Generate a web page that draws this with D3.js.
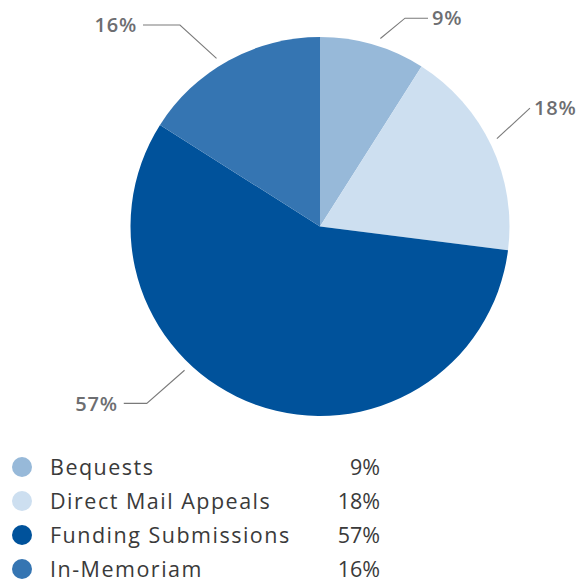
<!DOCTYPE html>
<html>
<head>
<meta charset="utf-8">
<script src="https://cdn.jsdelivr.net/npm/d3@7"></script>
<style>
  html, body { margin: 0; padding: 0; background: #fff; }
  #main { width: 586px; height: 582px; }
</style>
</head>
<body>
<div id="main"></div>
<script>
// data
const categories = ["Bequests", "Direct Mail Appeals", "Funding Submissions", "In-Memoriam"];
const shares = [9, 18, 57, 16];
const colors = ["#97b9d9", "#cddff0", "#00529b", "#3575b2"];

// leader layout per slice: start / elbow angle shift from slice middle (deg), elbow radius, horizontal run
const leaderShift = [1.6, -1.2, 23.5, -2.8];
const elbowShift = [6.0, -4.2, 24.6, -6.0];
const elbowR = [225, 241, 247.6, 245.4];
const runLen = [23, 0, 23, 37];

const ctx = {
    W: 586,
    H: 582,
    CX: 320,
    CY: 226.5,
    R: 189.5,
    LABEL_COLOR: "#6d6e71",
    LINE_COLOR: "#7a7a7a",
    TEXT_COLOR: "#3a3a3a"
};

const svg = d3.select("#main").append("svg")
    .attr("width", ctx.W)
    .attr("height", ctx.H);

const pieG = svg.append("g")
    .attr("transform", `translate(${ctx.CX},${ctx.CY})`);

const pie = d3.pie().sort(null).value(d => d);
const arcs = pie(shares);
const arcGen = d3.arc().innerRadius(0).outerRadius(ctx.R);

pieG.selectAll("path.slice")
    .data(arcs)
    .enter()
    .append("path")
    .attr("class", "slice")
    .attr("d", arcGen)
    .attr("fill", (d, i) => colors[i]);

function polar(r, a) {
    return [r * Math.sin(a), -r * Math.cos(a)];
}

const toRad = Math.PI / 180;

arcs.forEach(function(d, i) {
    let mid = (d.startAngle + d.endAngle) / 2;
    let p1 = polar(ctx.R + 8, mid + leaderShift[i] * toRad);
    let p2 = polar(elbowR[i], mid + elbowShift[i] * toRad);
    let right = Math.sin(mid) > 0;
    let p3 = [p2[0] + (right ? runLen[i] : -runLen[i]), p2[1]];

    pieG.append("polyline")
        .attr("points", [p1, p2, p3].map(p => p.join(",")).join(" "))
        .attr("fill", "none")
        .attr("stroke", ctx.LINE_COLOR)
        .attr("stroke-width", 1.1);

    pieG.append("text")
        .attr("x", p3[0] + (right ? 4 : -6))
        .attr("y", p3[1])
        .attr("dy", "0.36em")
        .attr("text-anchor", right ? "start" : "end")
        .attr("font-family", "'Open Sans', sans-serif")
        .attr("font-weight", 600)
        .attr("font-size", 20)
        .attr("letter-spacing", 0.8)
        .attr("fill", ctx.LABEL_COLOR)
        .text(shares[i] + "%");
});

// legend
const y = d3.scaleBand()
    .domain(categories)
    .range([450, 586])
    .paddingInner(0);

const legend = svg.selectAll("g.legendRow")
    .data(categories)
    .enter()
    .append("g")
    .attr("class", "legendRow")
    .attr("transform", d => `translate(0,${y(d) + y.bandwidth() / 2})`);

legend.append("circle")
    .attr("cx", 22)
    .attr("cy", 0)
    .attr("r", 10)
    .attr("fill", (d, i) => colors[i]);

legend.append("text")
    .attr("x", 50)
    .attr("dy", "0.36em")
    .attr("font-family", "'Open Sans', sans-serif")
    .attr("font-size", 21.5)
    .attr("letter-spacing", 1.5)
    .attr("fill", ctx.TEXT_COLOR)
    .text(d => d);

legend.append("text")
    .attr("x", 380)
    .attr("dy", "0.36em")
    .attr("text-anchor", "end")
    .attr("font-family", "'Open Sans', sans-serif")
    .attr("font-size", 21.5)
    .attr("fill", ctx.TEXT_COLOR)
    .text((d, i) => shares[i] + "%");
</script>
</body>
</html>
